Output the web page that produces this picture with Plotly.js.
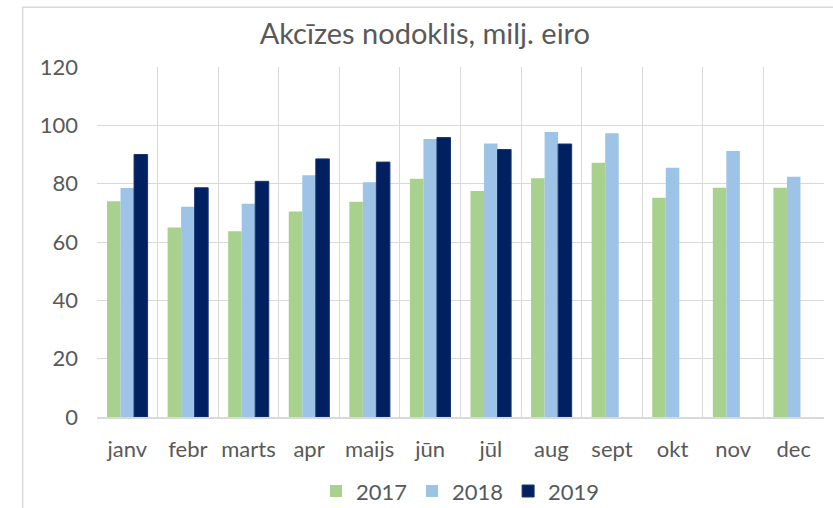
<!DOCTYPE html>
<html>
<head>
<meta charset="utf-8">
<script src="https://cdn.plot.ly/plotly-3.0.1.min.js"></script>
<style>html,body{margin:0;padding:0;background:#fff;}#chart{width:833px;height:508px;}</style>
</head>
<body>
<div id="chart"></div>
<script>
const months = ["janv","febr","marts","apr","maijs","jūn","jūl","aug","sept","okt","nov","dec"];
const v2017 = [74.0, 65.0, 63.7, 70.5, 73.8, 81.7, 77.5, 81.9, 87.2, 75.2, 78.6, 78.6];
const v2018 = [78.5, 72.1, 73.1, 82.9, 80.5, 95.3, 93.8, 97.7, 97.3, 85.5, 91.2, 82.4];
const v2019 = [90.0, 78.6, 80.8, 88.5, 87.4, 95.8, 91.7, 93.6, null, null, null, null];
const seriesNames = ["2017","2018","2019"];
const yTicks = [0,20,40,60,80,100,120];

const FONT = "Lato, 'Open Sans', sans-serif";
const TXT = "#595959";
const GRID = "#D9D9D9";

const traces = [
  {type:"bar", name:seriesNames[0], x:months, y:v2017, marker:{color:"#A9D18E"}},
  {type:"bar", name:seriesNames[1], x:months, y:v2018, marker:{color:"#9DC3E6"}},
  {type:"bar", name:seriesNames[2], x:months, y:v2019, marker:{color:"#002060", line:{color:"#1a3470", width:1}}}
];

const layout = {
  width:833, height:508,
  margin:{l:97, r:9, t:67, b:91, pad:0, autoexpand:false},
  paper_bgcolor:"#fff", plot_bgcolor:"#fff",
  font:{family:FONT, color:TXT, size:22},
  title:{text:"Akcīzes nodoklis, milj. eiro", font:{family:FONT, size:29, color:TXT},
         x:0.51, xref:"container", xanchor:"center", y:1-34/508, yref:"container", yanchor:"middle"},
  barmode:"group", bargap:0.33, bargroupgap:0,
  xaxis:{type:"category", tickson:"boundaries", showgrid:true, gridcolor:GRID, gridwidth:1,
         showline:true, linecolor:GRID, linewidth:1.5, ticks:"", ticklabelstandoff:12, tickangle:0,
         tickfont:{family:FONT, size:22, color:TXT}, fixedrange:true, automargin:false},
  yaxis:{range:[0,120], tickvals:yTicks, ticktext:yTicks.map(String), showgrid:true, gridcolor:GRID, gridwidth:1,
         zeroline:false, showline:false, ticks:"", ticklabelstandoff:18,
         tickfont:{family:FONT, size:22, color:TXT}, fixedrange:true, automargin:false},
  showlegend:true,
  legend:{orientation:"h", x:0.5, xanchor:"center", y:-0.212, yanchor:"middle",
          font:{family:FONT, size:22, color:TXT}, traceorder:"normal", itemwidth:30},
  shapes:[{type:"rect", xref:"paper", yref:"paper", x0:-0.1022, x1:1.05, y0:-0.4, y1:1.1706,
           line:{color:GRID, width:1.5}, fillcolor:"rgba(0,0,0,0)", layer:"below"}]
};

Plotly.newPlot("chart", traces, layout, {displayModeBar:false, staticPlot:true});
</script>
</body>
</html>
